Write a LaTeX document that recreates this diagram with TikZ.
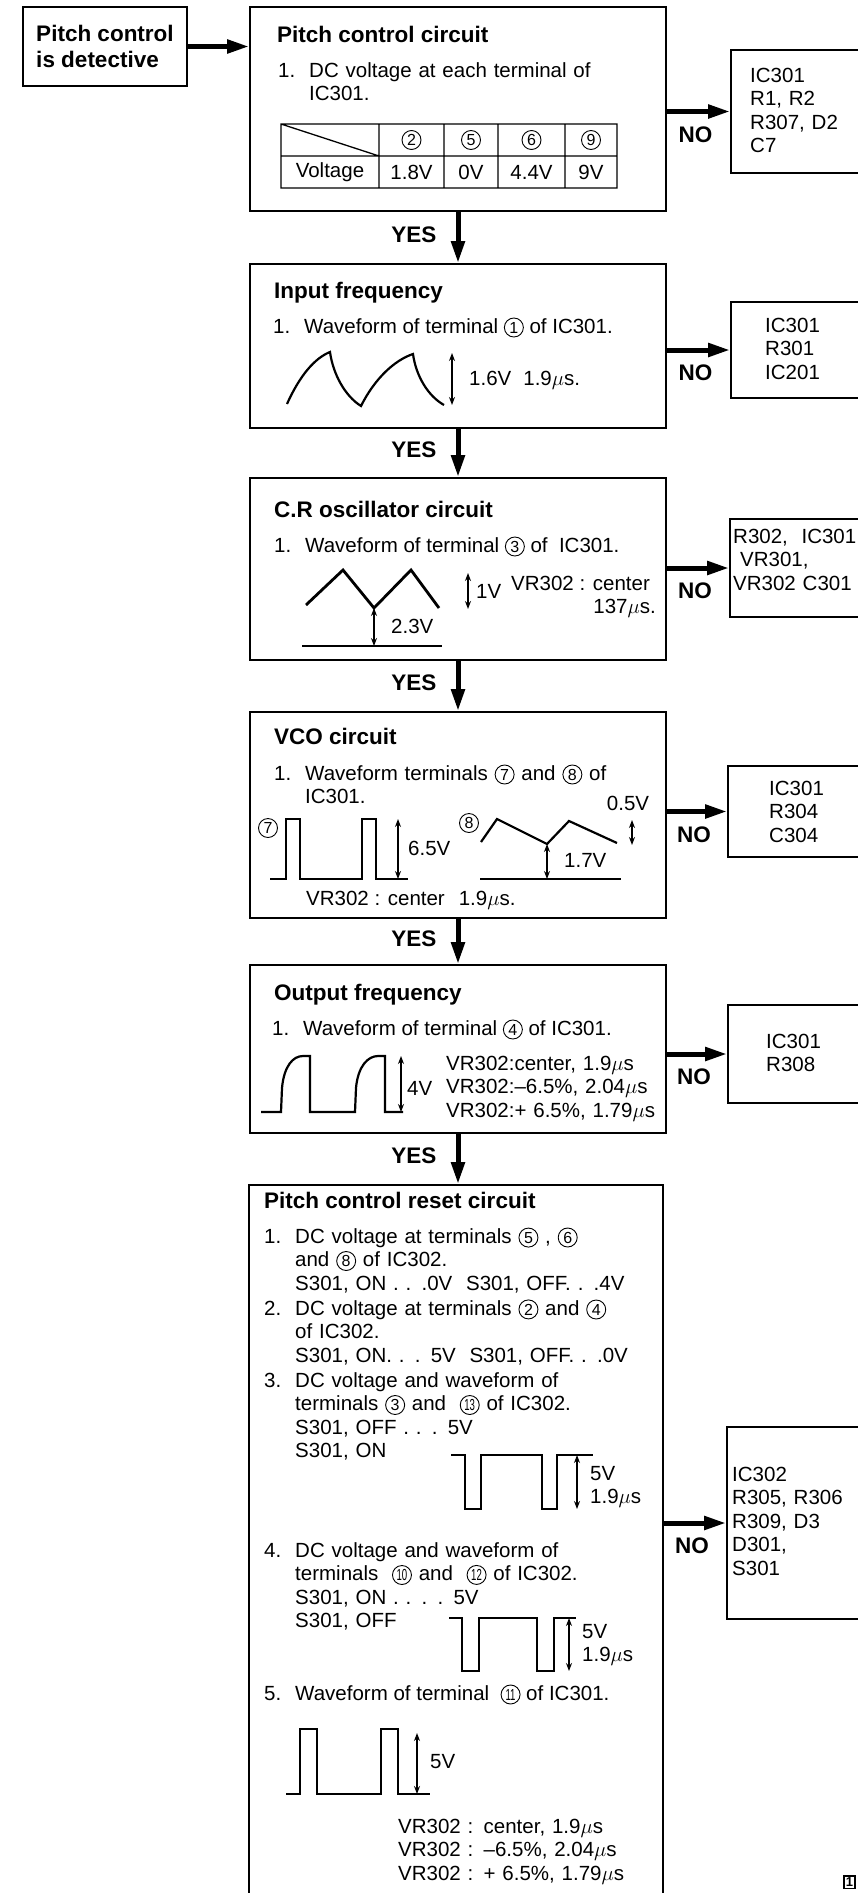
\documentclass[tikz,border=0pt]{standalone}
\usepackage{fontspec}
\setmainfont{Liberation Sans}
\usepackage{graphicx}
\usetikzlibrary{arrows.meta, positioning}

\tikzset{
  stepbox/.style={draw, line width=1.7pt, inner sep=0pt},
  partbox/.style={draw, line width=1.7pt, inner sep=0pt},
  txt/.style={anchor=base west, inner sep=0pt, font=\fontsize{20.5}{23.5}\selectfont},
  para/.style={txt, text width=360pt, align=left},
  boxtitle/.style={anchor=base west, inner sep=0pt, font=\bfseries\fontsize{22.5}{26}\selectfont},
  lbl/.style={inner sep=0pt, font=\bfseries\fontsize{22.5}{26}\selectfont},
  flowarrow/.style={line width=5pt, -{Triangle[length=22pt,width=13pt]}},
  wave/.style={line width=2.2pt, line join=miter},
  vspan/.style={line width=1.3pt, {Stealth[length=8pt,width=6pt]}-{Stealth[length=8pt,width=6pt]}},
  cell/.style={inner sep=0pt, font=\fontsize{20.5}{23.5}\selectfont},
  circnum/.style={draw, circle, line width=0.9pt, inner sep=0pt, minimum size=19pt, font=\fontsize{16}{16}\selectfont},
}

\newcommand{\tnum}[1]{\tikz[baseline=(tn.base)]\node[circnum] (tn) {#1};}
\newcommand{\tnumm}[1]{\tikz[baseline=(tn.base)]\node[circnum] (tn) {\scalebox{0.6}[1]{#1}};}

\begin{document}
\begin{tikzpicture}[x=1pt, y=-1pt]
    \useasboundingbox (0,0) rectangle (858,1893);

    % Boxes of the chart
    \node[stepbox, minimum width=164pt, minimum height=79pt, align=left,
          font=\bfseries\fontsize{22.5}{26}\selectfont] (det) at (105,46.5) {Pitch control\\is detective};
    \node[stepbox, minimum width=416pt, minimum height=204pt] (pcc) at (458,109) {};
    \node[stepbox, minimum width=416pt, minimum height=164pt] (inf) at (458,346) {};
    \node[stepbox, minimum width=416pt, minimum height=182pt] (cro) at (458,569) {};
    \node[stepbox, minimum width=416pt, minimum height=206pt] (vco) at (458,815) {};
    \node[stepbox, minimum width=416pt, minimum height=168pt] (outf) at (458,1049) {};
    \node[stepbox, minimum width=414pt, minimum height=730pt] (rst) at (456,1550) {};

    % Parts to check
    \node[partbox, minimum width=150pt, minimum height=123pt] (r1) at (806,111.5) {};
    \node[partbox, minimum width=150pt, minimum height=96pt] (r2) at (806,350) {};
    \node[partbox, minimum width=150pt, minimum height=98pt] (r3) at (805,568) {};
    \node[partbox, minimum width=150pt, minimum height=91pt] (r4) at (803,811.5) {};
    \node[partbox, minimum width=150pt, minimum height=98pt] (r5) at (803,1054) {};
    \node[partbox, minimum width=150pt, minimum height=192pt] (r6) at (802,1523) {};
    \node[para, text width=120pt] (r1t) at (750,82) {IC301\\R1, R2\\R307, D2\\C7};
    \node[para, text width=120pt] (r2t) at (765,332) {IC301\\R301\\IC201};
    \node[para, text width=125pt] (r3t) at (733,543) {R302,\ \ IC301\\\hspace*{7pt}VR301,\\VR302 C301};
    \node[para, text width=120pt] (r4t) at (769,795) {IC301\\R304\\C304};
    \node[para, text width=120pt] (r5t) at (766,1048) {IC301\\R308};
    \node[para, text width=125pt] (r6t) at (732,1481) {IC302\\R305, R306\\R309, D3\\D301,\\S301};

    % Arrows with YES / NO
    \draw[flowarrow] (det.east) -- (det.east -| pcc.west);
    \draw[flowarrow] (pcc) -- (inf) node[lbl, midway, anchor=east, xshift=-19pt, yshift=3pt] {YES};
    \draw[flowarrow] (inf) -- (cro) node[lbl, midway, anchor=east, xshift=-19pt, yshift=3pt] {YES};
    \draw[flowarrow] (cro) -- (vco) node[lbl, midway, anchor=east, xshift=-19pt, yshift=3pt] {YES};
    \draw[flowarrow] (vco) -- (outf) node[lbl, midway, anchor=east, xshift=-19pt, yshift=3pt] {YES};
    \draw[flowarrow] (outf.south) -- (outf.south |- rst.north) node[lbl, midway, anchor=east, xshift=-19pt, yshift=3pt] {YES};
    \draw[flowarrow] (r1.west -| pcc.east) -- (r1.west) node[lbl, midway, xshift=-3pt, yshift=-23pt] {NO};
    \draw[flowarrow] (r2.west -| inf.east) -- (r2.west) node[lbl, midway, xshift=-3pt, yshift=-23pt] {NO};
    \draw[flowarrow] (r3.west -| cro.east) -- (r3.west) node[lbl, midway, xshift=-3pt, yshift=-23pt] {NO};
    \draw[flowarrow] (r4.west -| vco.east) -- (r4.west) node[lbl, midway, xshift=-3pt, yshift=-23pt] {NO};
    \draw[flowarrow] (r5.west -| outf.east) -- (r5.west) node[lbl, midway, xshift=-3pt, yshift=-23pt] {NO};
    \draw[flowarrow] (r6.west -| rst.east) -- (r6.west) node[lbl, midway, xshift=-3pt, yshift=-23pt] {NO};

    % Pitch control circuit
    \node[boxtitle] (pcct) at (277,42) {Pitch control circuit};
    \node[txt] (pccn) at (278,77) {1.};
    \node[para] (pcci) at (309,77) {DC voltage at each terminal of\\IC301.};
    \draw[line width=1.3pt] (281,124) rectangle (617,188)
        (281,156) -- (617,156) (281,124) -- (379,156)
        (379,124) -- (379,188) (444,124) -- (444,188)
        (498,124) -- (498,188) (565,124) -- (565,188);
    \node[cell] (c2) at (411.5,140) {\tnum{2}};
    \node[cell] (c5) at (471,140) {\tnum{5}};
    \node[cell] (c6) at (531.5,140) {\tnum{6}};
    \node[cell] (c9) at (591,140) {\tnum{9}};
    \node[cell] (v0) at (330,172) {Voltage};
    \node[cell] (v2) at (411.5,172) {1.8V};
    \node[cell] (v5) at (471,172) {0V};
    \node[cell] (v6) at (531.5,172) {4.4V};
    \node[cell] (v9) at (591,172) {9V};

    % Input frequency
    \node[boxtitle] (inft) at (274,298) {Input frequency};
    \node[txt] (infn) at (273,333) {1.};
    \node[txt] (infi) at (304,333) {Waveform of terminal \tnum{1} of IC301.};
    \draw[wave] (287,404) .. controls (300,375) and (315,358) .. (330,352)
        .. controls (333,374) and (345,396) .. (361,406)
        .. controls (375,378) and (395,360) .. (413,354)
        .. controls (416,376) and (428,396) .. (444,405);
    \draw[vspan] (452,353) -- (452,405);
    \node[txt] (infv) at (469,385) {1.6V\hspace{12pt}1.9$\mu$s.};

    % C.R oscillator circuit
    \node[boxtitle] (crot) at (274,517) {C.R oscillator circuit};
    \node[txt] (cron) at (274,552) {1.};
    \node[txt] (croi) at (305,552) {Waveform of terminal \tnum{3} of\ \ IC301.};
    \draw[wave, line width=2.8pt] (306,605) -- (343,570) -- (374,608) -- (411,570) -- (439,608);
    \draw[wave, line width=2.8pt] (302,646) -- (442,646);
    \draw[vspan] (374,608) -- (374,646);
    \node[txt] (croa) at (391,633) {2.3V};
    \draw[vspan] (468,573) -- (468,609);
    \node[txt] (crob) at (476,598) {1V};
    \node[txt] (croc) at (511,590) {VR302 : center};
    \node[txt, anchor=base east] (crod) at (656,613) {137$\mu$s.};

    % VCO circuit
    \node[boxtitle] (vcot) at (274,744) {VCO circuit};
    \node[txt] (vcon) at (274,780) {1.};
    \node[para] (vcoi) at (305,780) {Waveform terminals \tnum{7} and \tnum{8} of\\IC301.};
    \node[cell] (vco7) at (268,828) {\tnum{7}};
    \draw[wave] (270,879) -- (286,879) -- (286,819) -- (300,819) -- (300,879) -- (362,879)
        -- (362,819) -- (376,819) -- (376,879) -- (408,879);
    \draw[vspan] (398,819) -- (398,879);
    \node[txt] (vcoa) at (408,855) {6.5V};
    \node[cell] (vco8) at (469,823) {\tnum{8}};
    \draw[wave] (481,842) -- (497,819) -- (547,844) -- (569,821) -- (617,843);
    \draw[wave] (480,879) -- (621,879);
    \draw[vspan] (547,844) -- (547,879);
    \node[txt] (vcob) at (564,867) {1.7V};
    \draw[vspan] (632,820) -- (632,845);
    \node[txt, anchor=base] (vcoc) at (628,810) {0.5V};
    \node[txt] (vcod) at (306,905) {VR302 : center\hspace{14pt}1.9$\mu$s.};

    % Output frequency
    \node[boxtitle] (outft) at (274,1000) {Output frequency};
    \node[txt] (outfn) at (272,1035) {1.};
    \node[txt] (outfi) at (303,1035) {Waveform of terminal \tnum{4} of IC301.};
    \draw[wave] (261,1112) -- (281,1112) -- (282,1088) .. controls (284,1066) and (293,1056) .. (303,1056)
        -- (310,1056) -- (310,1112) -- (355,1112) -- (356,1088) .. controls (358,1066) and (368,1056) .. (378,1056)
        -- (385,1056) -- (385,1112) -- (403,1112);
    \draw[vspan] (401,1056) -- (401,1112);
    \node[txt] (outfa) at (407,1095) {4V};
    \node[para] (outfb) at (446,1070) {VR302:center, 1.9$\mu$s\\VR302:--6.5\%, 2.04$\mu$s\\VR302:+ 6.5\%, 1.79$\mu$s};

    % Pitch control reset circuit
    \node[boxtitle] (rstt) at (264,1208) {Pitch control reset circuit};
    \node[txt] (rstn1) at (264,1243) {1.};
    \node[para] (rsti1) at (295,1243) {DC voltage at terminals \tnum{5} , \tnum{6}\\and \tnum{8} of IC302.\\S301, ON . . .0V\ \ S301, OFF. . .4V};
    \node[txt] (rstn2) at (264,1315) {2.};
    \node[para] (rsti2) at (295,1315) {DC voltage at terminals \tnum{2} and \tnum{4}\\of IC302.\\S301, ON. . . 5V\ \ S301, OFF. . .0V};
    \node[txt] (rstn3) at (264,1387) {3.};
    \node[para] (rsti3) at (295,1387) {DC voltage and waveform of\\terminals \tnum{3} and \ \tnumm{13}\ of IC302.\\S301, OFF . . . 5V\\S301, ON};
    \draw[wave] (451,1455) -- (465,1455) -- (465,1509) -- (481,1509) -- (481,1455) -- (542,1455)
        -- (542,1509) -- (557,1509) -- (557,1455) -- (593,1455);
    \draw[vspan] (577,1455) -- (577,1509);
    \node[para] (rsta) at (590,1480) {5V\\1.9$\mu$s};
    \node[txt] (rstn4) at (264,1557) {4.};
    \node[para] (rsti4) at (295,1557) {DC voltage and waveform of\\terminals \ \tnumm{10}\ and \ \tnumm{12}\ of IC302.\\S301, ON . . . . 5V\\S301, OFF};
    \draw[wave] (449,1618) -- (462,1618) -- (462,1671) -- (479,1671) -- (479,1618) -- (537,1618)
        -- (537,1671) -- (554,1671) -- (554,1618) -- (576,1618);
    \draw[vspan] (569,1618) -- (569,1671);
    \node[para] (rstb) at (582,1638) {5V\\1.9$\mu$s};
    \node[txt] (rstn5) at (264,1700) {5.};
    \node[txt] (rsti5) at (295,1700) {Waveform of terminal \ \tnumm{11}\ of IC301.};
    \draw[wave] (286,1794) -- (300,1794) -- (300,1729) -- (317,1729) -- (317,1794) -- (381,1794)
        -- (381,1729) -- (398,1729) -- (398,1794) -- (430,1794);
    \draw[vspan] (417,1733) -- (417,1794);
    \node[txt] (rstc) at (430,1768) {5V};
    \node[para] (rstv) at (398,1833) {VR302 : center, 1.9$\mu$s\\VR302 : --6.5\%, 2.04$\mu$s\\VR302 : + 6.5\%, 1.79$\mu$s};

    % page mark
    \node[draw, line width=1.5pt, anchor=north west, inner xsep=2pt, inner ysep=2pt,
          font=\bfseries\fontsize{13}{13}\selectfont] (pg) at (843,1875) {1};

\end{tikzpicture}
\end{document}
